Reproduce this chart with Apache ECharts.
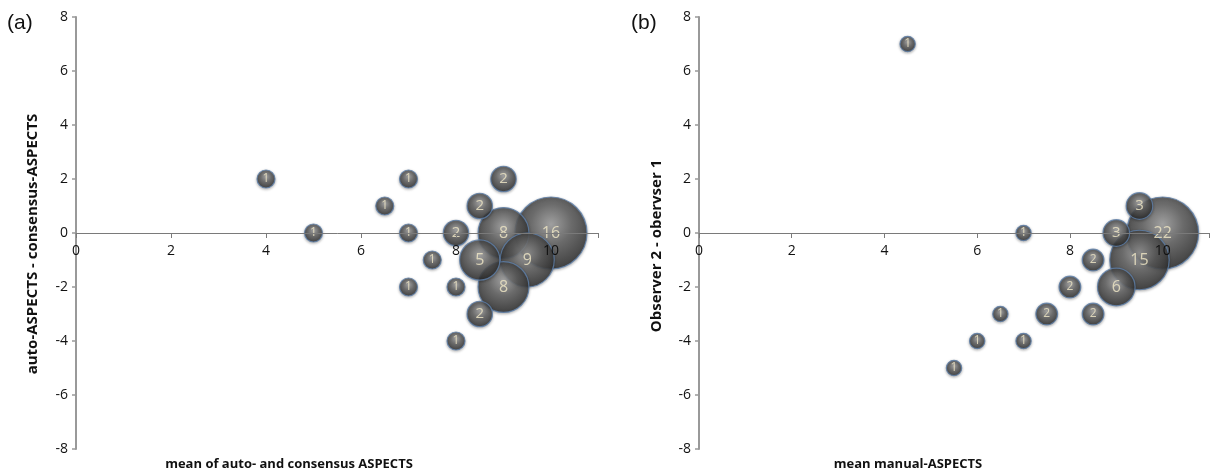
<!DOCTYPE html>
<html>
<head>
<meta charset="utf-8">
<script src="https://cdn.jsdelivr.net/npm/echarts@6/dist/echarts.min.js"></script>
<style>
html, body { margin: 0; padding: 0; background: #fff; }
#chart { width: 1212px; height: 470px; }
</style>
</head>
<body>
<div id="chart"></div>
<script>
// panel (a): mean of auto and consensus vs difference, bubble = count
var aX = [10, 9, 9.5, 9, 8.5, 4, 7, 9, 6.5, 8.5, 5, 7, 8, 7.5, 7, 8, 8.5, 8];
var aY = [0, 0, -1, -2, -1, 2, 2, 2, 1, 1, 0, 0, 0, -1, -2, -2, -3, -4];
var aN = [16, 8, 9, 8, 5, 1, 1, 2, 1, 2, 1, 1, 2, 1, 1, 1, 2, 1];
// panel (b): mean manual vs observer difference
var bX = [10, 9.5, 9, 4.5, 9.5, 7, 9, 8.5, 8, 6.5, 7.5, 8.5, 6, 7, 5.5];
var bY = [0, -1, -2, 7, 1, 0, 0, -1, -2, -3, -3, -3, -4, -4, -5];
var bN = [22, 15, 6, 1, 3, 1, 3, 2, 2, 1, 2, 2, 1, 1, 1];
var xTicks = [0, 2, 4, 6, 8, 10];
var yTicks = [-8, -6, -4, -2, 0, 2, 4, 6, 8];

var maxD = 72;
var font = 'Open Sans';

function buildData(xs, ys, ns) {
    var vmax = Math.max.apply(null, ns);
    var out = [];
    for (var i = 0; i < xs.length; i++) {
        var d = maxD * Math.sqrt(ns[i] / vmax);
        out.push({
            value: [xs[i], ys[i], ns[i]],
            symbolSize: d,
            label: { fontSize: d < 22 ? 12 : (d < 30 ? 15 : 16) }
        });
    }
    return out;
}

var bubbleStyle = {
    color: {
        type: 'radial', x: 0.5, y: 0.38, r: 0.62,
        colorStops: [
            { offset: 0, color: '#9a9a9a' },
            { offset: 0.45, color: '#5a5a5a' },
            { offset: 1, color: '#262626' }
        ]
    },
    opacity: 0.82,
    borderColor: '#5f80aa',
    borderWidth: 1.2,
    shadowBlur: 3,
    shadowColor: 'rgba(0,0,0,0.35)',
    shadowOffsetY: 1
};

// x axis crosses at y = 0, i.e. half of the 432px plot height above the bottom
function xAxisCfg(idx) {
    return {
        gridIndex: idx, type: 'value', min: 0, max: 11, interval: 2,
        position: 'bottom', offset: -216, z: 10,
        axisLine: { onZero: false, lineStyle: { color: '#7a7a7a', width: 1 } },
        axisTick: { show: true, length: 5, lineStyle: { color: '#7a7a7a' } },
        axisLabel: {
            color: '#111', fontSize: 14, fontFamily: font, margin: 11,
            formatter: function (v) { return xTicks.indexOf(v) >= 0 ? v : ''; }
        },
        splitLine: { show: false }
    };
}
function yAxisCfg(idx) {
    return {
        gridIndex: idx, type: 'value', min: -8, max: 8, interval: 2,
        axisLine: { show: true, onZero: false, lineStyle: { color: '#999', width: 2 } },
        axisTick: { show: true, length: 4, lineStyle: { color: '#999', width: 1.5 } },
        axisLabel: {
            color: '#111', fontSize: 14, fontFamily: font, margin: 8,
            formatter: function (v) { return yTicks.indexOf(v) >= 0 ? v : ''; }
        },
        splitLine: { show: false }
    };
}

function bubbleSeries(idx, data) {
    return {
        type: 'scatter', xAxisIndex: idx, yAxisIndex: idx,
        data: data,
        itemStyle: bubbleStyle,
        label: {
            show: true, position: 'inside', color: '#efe6c6', fontFamily: font,
            formatter: function (p) { return p.value[2]; }
        },
        emphasis: { disabled: true },
        z: 3
    };
}

var titleStyle = { fontFamily: font, fontSize: 13, fontWeight: 'bold', fill: '#111' };
var yTitleStyle = { fontFamily: font, fontSize: 15, fontWeight: 'bold', fill: '#111' };

var myChart = echarts.init(document.getElementById('chart'));
var option = {
    animation: false,
    grid: [
        { left: 76, top: 17, width: 522.5, height: 432 },
        { left: 699, top: 17, width: 522.5, height: 432 }
    ],
    xAxis: [xAxisCfg(0), xAxisCfg(1)],
    yAxis: [yAxisCfg(0), yAxisCfg(1)],
    series: [
        bubbleSeries(0, buildData(aX, aY, aN)),
        bubbleSeries(1, buildData(bX, bY, bN))
    ],
    graphic: [
        { type: 'text', left: 7, top: 13, style: { text: '(a)', fontFamily: 'Liberation Sans', fontSize: 21, fill: '#111' } },
        { type: 'text', left: 631, top: 13, style: { text: '(b)', fontFamily: 'Liberation Sans', fontSize: 21, fill: '#111' } },
        { type: 'text', x: 289, y: 464, style: Object.assign({ text: 'mean of auto- and consensus ASPECTS', align: 'center', verticalAlign: 'middle' }, titleStyle) },
        { type: 'text', x: 908, y: 464, style: Object.assign({ text: 'mean manual-ASPECTS', align: 'center', verticalAlign: 'middle' }, titleStyle) },
        { type: 'text', x: 33, y: 244, rotation: Math.PI / 2, style: Object.assign({ text: 'auto-ASPECTS - consensus-ASPECTS', align: 'center', verticalAlign: 'middle' }, yTitleStyle) },
        { type: 'text', x: 657, y: 246, rotation: Math.PI / 2, style: Object.assign({ text: 'Observer 2 - obervser 1', align: 'center', verticalAlign: 'middle' }, yTitleStyle) }
    ]
};
myChart.setOption(option, true);
</script>
</body>
</html>
